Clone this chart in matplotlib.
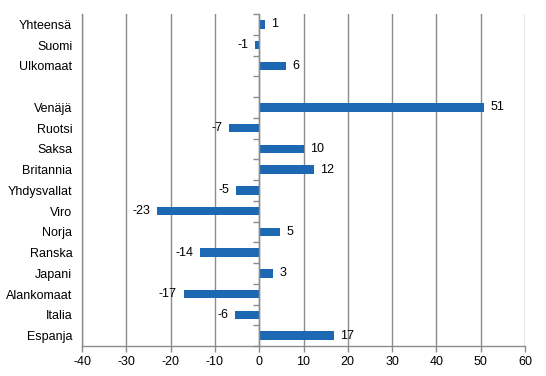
import numpy as np
import matplotlib
matplotlib.use("Agg")
import matplotlib.pyplot as plt

plt.rcParams['font.family'] = ['Liberation Sans', 'DejaVu Sans']

categories = ["Yhteensä", "Suomi", "Ulkomaat", "", "Venäjä", "Ruotsi", "Saksa",
              "Britannia", "Yhdysvallat", "Viro", "Norja", "Ranska", "Japani",
              "Alankomaat", "Italia", "Espanja"]
values = [1.3, -0.9, 6.1, np.nan, 50.8, -6.8, 10.0, 12.3, -5.2, -23.0, 4.7,
          -13.3, 3.1, -17.0, -5.4, 16.9]
labels = ["1", "-1", "6", "", "51", "-7", "10", "12", "-5", "-23", "5", "-14",
          "3", "-17", "-6", "17"]
xticks = [-40, -30, -20, -10, 0, 10, 20, 30, 40, 50, 60]

bar_color = "#1c68b2"
grid_color = "#8c8c8c"

fig = plt.figure(figsize=(5.46, 3.76), dpi=100)
ax = fig.add_axes([82/546, 1-346/376, (525-82)/546, (346-14)/376])

y = np.arange(len(categories))
vals = np.array(values, dtype=float)
ax.barh(y, np.nan_to_num(vals), height=0.4, color=bar_color, zorder=3)

for yi, v, lab in zip(y, vals, labels):
    if np.isnan(v):
        continue
    if v >= 0:
        ax.annotate(lab, (v, yi), xytext=(4.5, 0), textcoords="offset points",
                    ha="left", va="center", fontsize=9, color="black")
    else:
        ax.annotate(lab, (v, yi), xytext=(-5, 0), textcoords="offset points",
                    ha="right", va="center", fontsize=9, color="black")

ax.set_xlim(xticks[0], xticks[-1])
ax.set_ylim(len(categories) - 0.5, -0.5)
ax.set_xticks(xticks)
ax.set_xticklabels([str(t) for t in xticks], fontsize=9)
ax.set_yticks(y)
ax.set_yticklabels(categories, fontsize=9)
ax.tick_params(axis="y", length=0, pad=7)
ax.tick_params(axis="x", length=4, width=1, color=grid_color, pad=3)

ax.grid(axis="x", color=grid_color, linewidth=1, zorder=0)
ax.set_axisbelow(True)
for s in ["top", "right"]:
    ax.spines[s].set_visible(False)
for s in ["left", "bottom"]:
    ax.spines[s].set_color(grid_color)
    ax.spines[s].set_linewidth(1)

# zero axis with category-boundary ticks
ax2 = ax.twinx()
ax2.set_ylim(ax.get_ylim())
for s in ["top", "right", "bottom"]:
    ax2.spines[s].set_visible(False)
ax2.spines["left"].set_position(("data", 0))
ax2.spines["left"].set_color(grid_color)
ax2.spines["left"].set_linewidth(1)
ax2.yaxis.tick_left()
ax2.set_yticks(np.arange(-0.5, len(categories), 1.0))
ax2.set_yticklabels([])
ax2.tick_params(axis="y", length=4, width=1, color=grid_color, direction="out")
ax2.set_zorder(4)
ax2.patch.set_visible(False)

fig.savefig("out.png", dpi=100)
